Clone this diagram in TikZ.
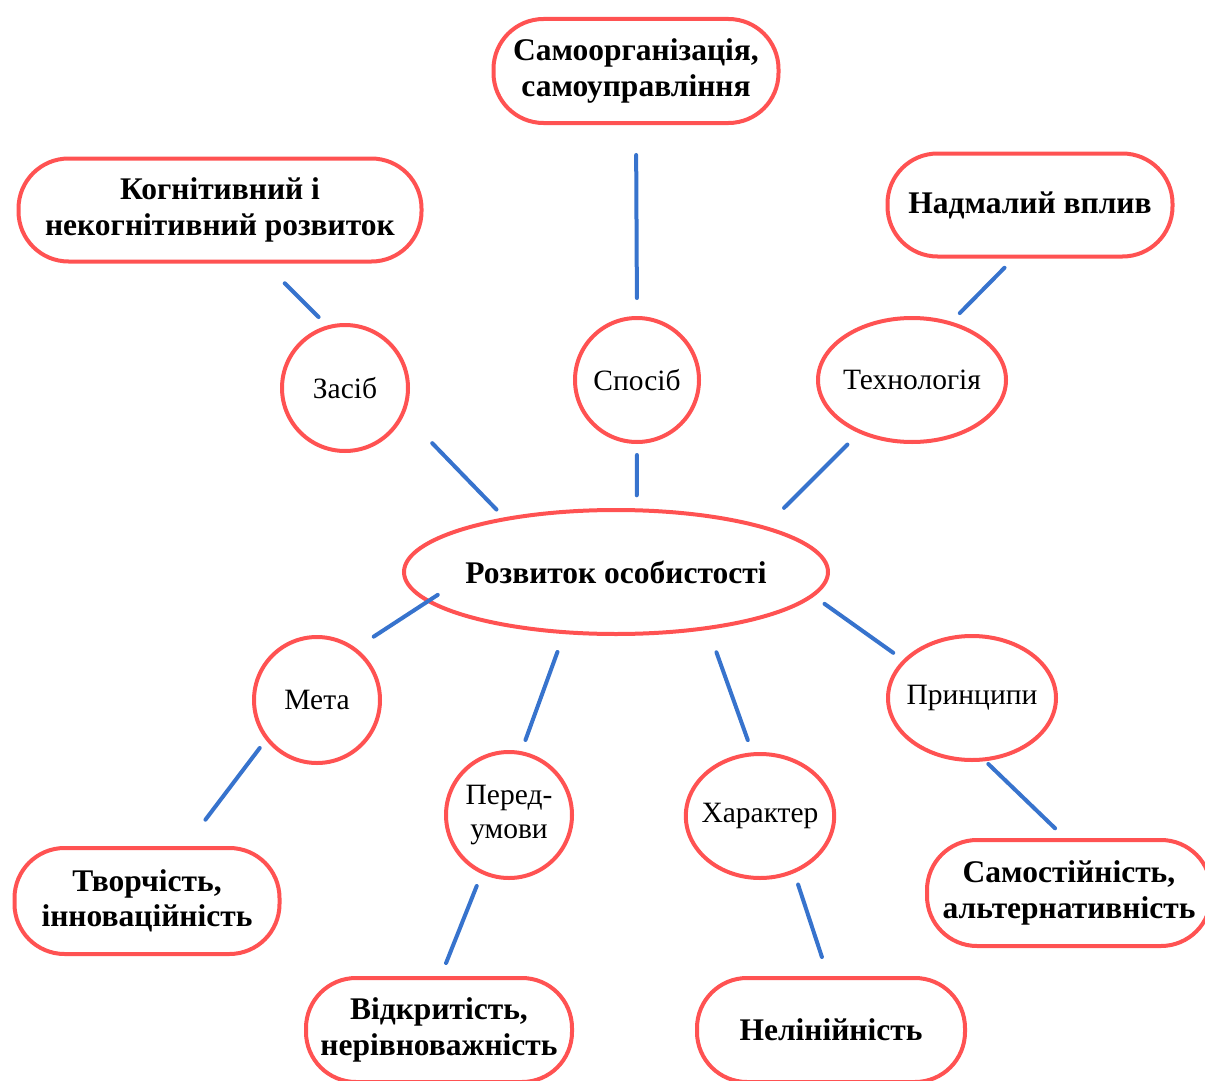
\documentclass[tikz,border=0pt]{standalone}
\usepackage{fontspec}
\setmainfont{Liberation Serif}
\usetikzlibrary{shapes.geometric}
\definecolor{rd}{RGB}{255,82,82}
\definecolor{bl}{RGB}{55,115,205}
\begin{document}
\begin{tikzpicture}[x=1pt,y=-1pt,
  box/.style={draw=rd,line width=4pt,rounded corners=50pt,minimum height=104pt,align=center,
    font=\fontsize{31.5}{35.5}\selectfont\bfseries,inner sep=0pt},
  circ/.style={draw=rd,line width=4pt,circle,minimum size=126pt,inner sep=0pt,align=center,
    font=\fontsize{29.5}{34}\selectfont},
  ell/.style={draw=rd,line width=4pt,ellipse,inner sep=-6pt,align=center,
    font=\fontsize{29.5}{34}\selectfont},
  link/.style={draw=bl,line width=4pt,line cap=round}]
\useasboundingbox (0,0) rectangle (1205,1081);
\clip (0,0) rectangle (1205,1081);
% nodes
\node[box,minimum width=285pt] (samo) at (636,71) {Самоорганізація,\\самоуправління};
\node[box,minimum width=403pt,minimum height=103pt] (kog) at (220,210) {Когнітивний і\\некогнітивний розвиток};
\node[box,minimum width=285pt,minimum height=103pt] (nadm) at (1030,205) {Надмалий вплив};
\node[circ] (zasib) at (345,388) {Засіб};
\node[circ,minimum size=124pt] (sposib) at (637,380) {Спосіб};
\node[ell,minimum width=188pt,minimum height=124pt] (tech) at (912,380) {Технологія};
\node[ell,minimum width=424pt,minimum height=124pt,font=\fontsize{31.5}{35.5}\selectfont\bfseries] (main) at (616,572) {Розвиток особистості};
\node[circ] (meta) at (317,700) {Мета};
\node[ell,minimum width=168pt,minimum height=124pt] (princ) at (972,698) {Принципи};
\node[circ] (pered) at (509,815) {Перед-\\умови};
\node[ell,minimum width=136pt,minimum height=124pt] (khar) at (760,816) {Характер};
\node[box,minimum width=265pt,minimum height=106pt] (tvor) at (147,901) {Творчість,\\інноваційність};
\node[box,minimum width=266pt] (vidk) at (439,1030) {Відкритість,\\нерівноважність};
\node[box,minimum width=268pt] (nelin) at (831,1030) {Нелінійність};
\node[box,minimum width=284pt,minimum height=106pt] (samost) at (1069,893) {Самостійність,\\альтернативність};
% connectors
\draw[link,shorten <=30pt,shorten >=18pt] (samo.south) -- (sposib.north);
\draw[link,shorten <=11pt,shorten >=13pt] (sposib.south) -- (main.72);
\draw[link,shorten <=28pt,shorten >=12pt] (kog.-50) -- (zasib.106);
\draw[link,shorten <=40pt,shorten >=11pt] (zasib.-24) -- (main.154);
\draw[link,shorten <=13pt,shorten >=12pt] (nadm.253) -- (tech.56);
\draw[link,shorten <=16pt,shorten >=26pt] (tech.225) -- (main.17);
\draw[link,shorten <=-13pt,shorten >=21pt] (main.189) -- (meta.53);
\draw[link,shorten <=10pt,shorten >=33pt] (meta.218) -- (tvor.55);
\draw[link,shorten <=19pt,shorten >=12pt] (main.230) -- (pered.79);
\draw[link,shorten <=13pt,shorten >=14pt] (pered.245) -- (vidk.88);
\draw[link,shorten <=24pt,shorten >=13pt] (main.-32) -- (khar.97);
\draw[link,shorten <=12pt,shorten >=20pt] (khar.-59) -- (nelin.93);
\draw[link,shorten <=13pt,shorten >=12pt] (main.-7) -- (princ.151);
\draw[link,shorten <=4pt,shorten >=14pt] (princ.-78) -- (samost.94);
\end{tikzpicture}
\end{document}
